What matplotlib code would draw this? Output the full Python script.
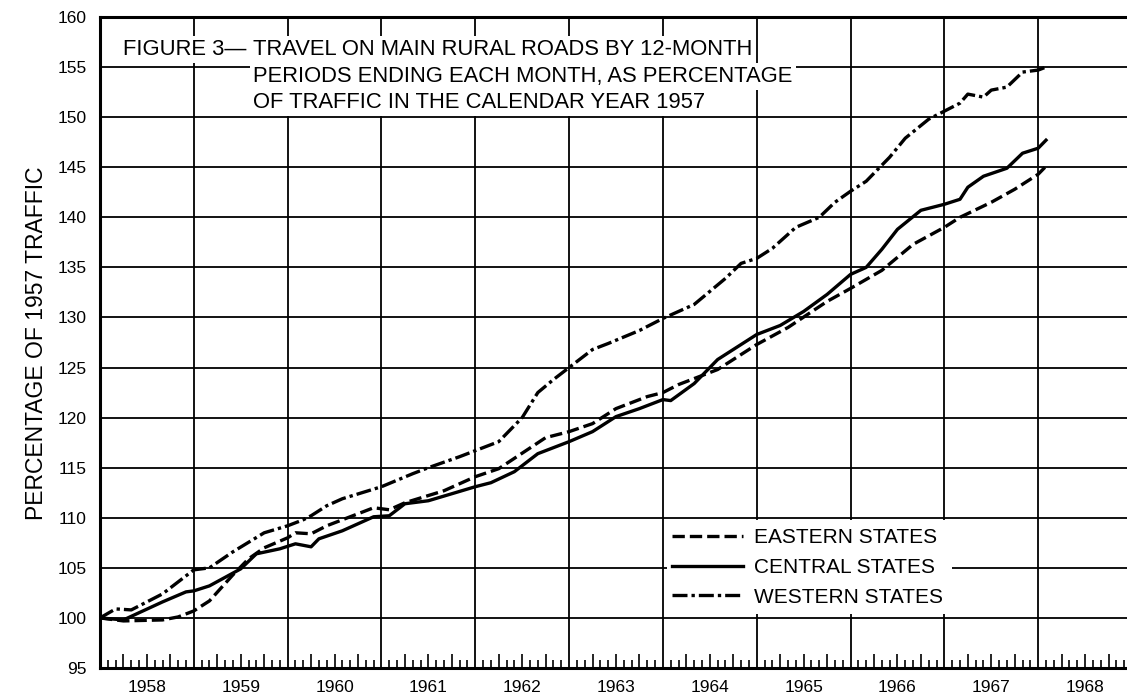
import matplotlib.pyplot as plt
import numpy as np
from matplotlib.patches import Rectangle

plt.rcParams['font.family'] = ['Liberation Sans', 'DejaVu Sans']

# months after Dec 1957 (12-month period ending that month), % of 1957 traffic
months_e = [0, 3, 8, 10, 12, 14, 17, 19, 21, 24, 25, 27, 29, 35, 37, 39, 44, 48, 51, 57,
            60, 63, 66, 70, 72, 74, 76, 79, 84, 88, 93, 96, 100, 104, 108, 110, 114, 117, 120, 121]
eastern = [100.0, 99.7, 99.8, 100.1, 100.7, 101.7, 104.3, 105.9, 107.0, 108.0,
           108.5, 108.4, 109.2, 111.0, 110.8, 111.5, 112.7, 114.1, 114.9, 118.0,
           118.6, 119.4, 120.9, 122.1, 122.5, 123.3, 123.9, 124.8, 127.3, 129.0,
           131.6, 132.9, 134.7, 137.3, 139.0, 140.0, 141.5, 142.8, 144.3, 145.1]

months_c = [0, 3, 8, 11, 12, 14, 18, 20, 23, 25, 27, 28, 31, 35, 37, 39, 42, 45, 48, 50,
            53, 56, 60, 63, 66, 69, 72, 73, 76, 79, 84, 87, 90, 93, 96, 98, 100, 102, 105, 108,
            110, 111, 113, 116, 118, 120, 121]
central = [100.0, 99.8, 101.6, 102.6, 102.7, 103.2, 104.9, 106.4, 106.9, 107.4,
           107.1, 107.9, 108.7, 110.1, 110.2, 111.4, 111.7, 112.4, 113.1, 113.5,
           114.6, 116.4, 117.6, 118.6, 120.1, 120.9, 121.8, 121.7, 123.4, 125.8,
           128.3, 129.2, 130.6, 132.3, 134.3, 135.0, 136.8, 138.8, 140.7, 141.3,
           141.8, 143.0, 144.1, 144.9, 146.4, 146.9, 147.7]

months_w = [0, 2, 4, 8, 12, 14, 17, 21, 24, 26, 27, 29, 31, 36, 40, 42, 46, 48, 51, 54,
            56, 58, 60, 63, 65, 69, 72, 76, 78, 80, 82, 84, 86, 89, 92, 94, 96, 98, 101, 103,
            106, 108, 110, 111, 113, 114, 116, 118, 120, 121]
western = [100.0, 100.9, 100.8, 102.4, 104.8, 105.0, 106.6, 108.5, 109.2, 109.8,
           110.2, 111.2, 111.9, 113.1, 114.4, 115.0, 116.1, 116.7, 117.6, 120.0,
           122.5, 123.8, 125.0, 126.8, 127.4, 128.7, 129.9, 131.3, 132.6, 133.9,
           135.4, 135.9, 136.9, 139.0, 140.0, 141.5, 142.6, 143.6, 146.0, 147.9,
           149.8, 150.6, 151.4, 152.3, 152.0, 152.7, 153.0, 154.5, 154.7, 155.0]

years = [str(y) for y in range(1958, 1969)]
series_names = ['EASTERN STATES', 'CENTRAL STATES', 'WESTERN STATES']
fig_label = 'FIGURE 3\u2014'
title_lines = ['TRAVEL ON MAIN RURAL ROADS BY 12-MONTH',
               'PERIODS ENDING EACH MONTH, AS PERCENTAGE',
               'OF TRAFFIC IN THE CALENDAR YEAR 1957']

fig = plt.figure(figsize=(11.27, 6.98), dpi=100)
ax = fig.add_axes([100 / 1127, 30 / 698, 1032 / 1127, 651 / 698])
ax.set_xlim(0, 11)
ax.set_ylim(95, 160)

# grid
for y in range(100, 160, 5):
    ax.axhline(y, color='black', lw=1.3, zorder=1)
for yr in range(1, 11):
    ax.axvline(yr, color='black', lw=1.3, zorder=1)

# monthly ticks along the bottom, taller every quarter
m = np.arange(1, 132)
short = m[m % 3 != 0]
tall = m[(m % 3 == 0) & (m % 12 != 0)]
xt = ax.get_xaxis_transform()
ax.vlines(short / 12, 0, 0.012, transform=xt, color='black', lw=1.2, zorder=2)
ax.vlines(tall / 12, 0, 0.022, transform=xt, color='black', lw=1.2, zorder=2)

# blank area behind the legend
ax.add_patch(Rectangle((0.549, 0.083), 0.277, 0.145, transform=ax.transAxes,
                       facecolor='white', edgecolor='none', zorder=1.5))

ax.plot(np.array(months_e) / 12, eastern, color='black', lw=2.4,
        ls=(0, (3.7, 1.5)), label=series_names[0], zorder=4)
ax.plot(np.array(months_c) / 12, central, color='black', lw=2.4,
        label=series_names[1], zorder=4)
ax.plot(np.array(months_w) / 12, western, color='black', lw=2.4,
        ls=(0, (4.5, 1.2, 1.0, 1.2)), label=series_names[2], zorder=4)

ax.legend(loc='upper left', bbox_to_anchor=(0.5544, 0.215), frameon=False,
          borderpad=0, borderaxespad=0, handlelength=3.4, handletextpad=0.55,
          labelspacing=0.52, fontsize=15)

# title block, each line knocks out the grid behind it
box = dict(boxstyle='square,pad=0.15', facecolor='white', edgecolor='none')
tsize = 15.8
ax.text(0.0223, 0.9416, fig_label, transform=ax.transAxes, fontsize=tsize,
        va='baseline', ha='left', bbox=box, zorder=3)
ax.text(0.1483, 0.9416, title_lines[0], transform=ax.transAxes, fontsize=tsize,
        va='baseline', ha='left', bbox=box, zorder=3)
ax.text(0.1483, 0.9002, title_lines[1], transform=ax.transAxes, fontsize=tsize,
        va='baseline', ha='left', bbox=box, zorder=3)
ax.text(0.1483, 0.8602, title_lines[2], transform=ax.transAxes, fontsize=tsize,
        va='baseline', ha='left', bbox=box, zorder=3)

ax.set_yticks(np.arange(95, 161, 5))
ax.tick_params(axis='y', length=0, pad=9.5, labelsize=12.5)
ax.set_xticks(np.arange(0.5, 11, 1))
ax.set_xticklabels(years)
ax.tick_params(axis='x', length=0, pad=9, labelsize=12.5)

ax.set_ylabel('PERCENTAGE OF 1957 TRAFFIC', fontsize=16.5)
ax.yaxis.set_label_coords(-0.05, 0.4985)

ax.spines['right'].set_visible(False)
for s in ['left', 'bottom', 'top']:
    ax.spines[s].set_linewidth(2.2)

fig.savefig('out.png', dpi=100)
